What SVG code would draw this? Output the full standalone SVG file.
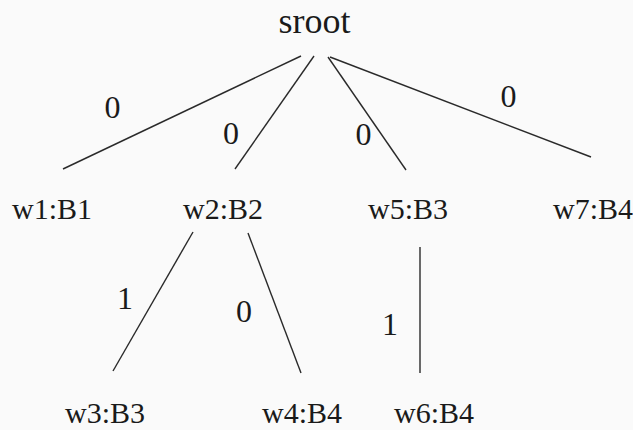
<svg xmlns="http://www.w3.org/2000/svg" width="633" height="430" viewBox="0 0 633 430">
  <style>
    .bg { fill: #fafafa; }
    text { font-family: 'Liberation Serif', 'DejaVu Serif', serif; fill: #1a1a1a; }
    .node { font-size: 30px; }
    .root { font-size: 36px; text-anchor: middle; }
    .lbl { font-size: 32px; text-anchor: middle; }
    .edge { stroke: #2a2a2a; stroke-width: 1.4; fill: none; }
  </style>
  <rect class="bg" x="0" y="0" width="633" height="430"/>
  <g id="connectors">
    <line class="edge" x1="301" y1="56" x2="63" y2="169"/>
    <line class="edge" x1="314" y1="56" x2="235" y2="169"/>
    <line class="edge" x1="328" y1="57" x2="406" y2="170"/>
    <line class="edge" x1="330" y1="57" x2="591" y2="157"/>
    <line class="edge" x1="193" y1="232" x2="113" y2="371"/>
    <line class="edge" x1="248" y1="233" x2="301" y2="373"/>
    <line class="edge" x1="420" y1="247" x2="420" y2="373"/>
    <text class="lbl" x="112.5" y="118" font-family="Liberation Serif">0</text>
    <text class="lbl" x="231" y="144" font-family="Liberation Serif">0</text>
    <text class="lbl" x="363.5" y="145" font-family="Liberation Serif">0</text>
    <text class="lbl" x="508.5" y="107" font-family="Liberation Serif">0</text>
    <text class="lbl" x="125" y="309" font-family="Liberation Serif">1</text>
    <text class="lbl" x="244" y="322" font-family="Liberation Serif">0</text>
    <text class="lbl" x="390" y="335" font-family="Liberation Serif">1</text>
  </g>
  <g id="sroot"><text class="root" x="314.5" y="33" font-family="Liberation Serif">sroot</text></g>
  <g id="w1"><text class="node" x="12" y="219" font-family="Liberation Serif">w1:B1</text></g>
  <g id="w2"><text class="node" x="183" y="219" font-family="Liberation Serif">w2:B2</text></g>
  <g id="w5"><text class="node" x="368" y="219" font-family="Liberation Serif">w5:B3</text></g>
  <g id="w7"><text class="node" x="553" y="219" font-family="Liberation Serif">w7:B4</text></g>
  <g id="w3"><text class="node" x="65" y="423" font-family="Liberation Serif">w3:B3</text></g>
  <g id="w4"><text class="node" x="262" y="423" font-family="Liberation Serif">w4:B4</text></g>
  <g id="w6"><text class="node" x="394" y="423" font-family="Liberation Serif">w6:B4</text></g>
</svg>
